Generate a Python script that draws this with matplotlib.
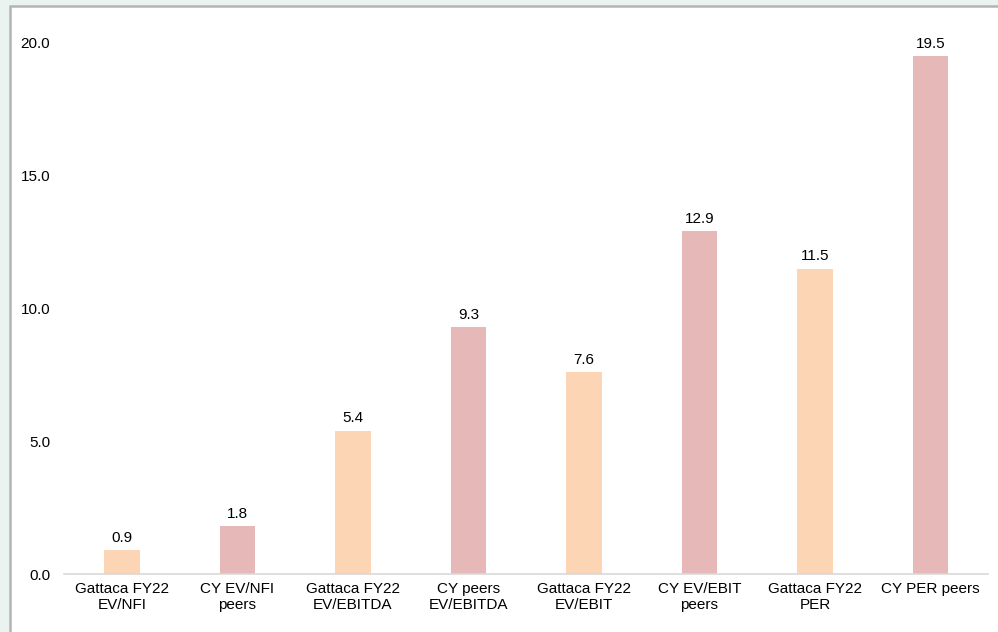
import matplotlib.pyplot as plt
from matplotlib.patches import Rectangle

plt.rcParams['font.family'] = ['Liberation Sans', 'DejaVu Sans']

# ================== DỮ LIỆU ==================
categories = [
    "Gattaca FY22\nEV/NFI", "CY EV/NFI\npeers",
    "Gattaca FY22\nEV/EBITDA", "CY peers\nEV/EBITDA",
    "Gattaca FY22\nEV/EBIT", "CY EV/EBIT\npeers",
    "Gattaca FY22\nPER", "CY PER peers",
]
values = [0.9, 1.8, 5.4, 9.3, 7.6, 12.9, 11.5, 19.5]
yticks = [0.0, 5.0, 10.0, 15.0, 20.0]

peach = "#fcd5b5"
pink = "#e6b9b8"
colors = [peach, pink] * 4

# ================== VẼ ==================
fig = plt.figure(figsize=(9.98, 6.32), dpi=100)
fig.patch.set_facecolor("#eaf3f0")

# khung trắng viền xám (nằm dưới trục)
W, H = 998, 632
panel = Rectangle((9.5 / W, -0.05), 1.1, (H - 5.5) / H + 0.05,
                  transform=fig.transFigure, facecolor="white",
                  edgecolor="#b4b4b4", linewidth=1.8, zorder=-10)
fig.patches.append(panel)

ax = fig.add_axes([64.25 / W, 58 / H, 924 / W, 557.6 / H])
ax.set_zorder(5)
ax.set_facecolor("none")

x = list(range(len(values)))
bars = ax.bar(x, values, width=0.31, color=colors, zorder=2)

for xi, v in zip(x, values):
    ax.annotate(f"{v:.1f}", (xi, v), xytext=(0, 4), textcoords="offset points",
                ha="center", va="bottom", fontsize=11, color="#000000")

ax.set_xlim(-0.5, 7.5)
ax.set_ylim(0, 21)
ax.set_yticks(yticks)
ax.set_yticklabels([f"{t:.1f}" for t in yticks], fontsize=11)
ax.set_xticks(x)
ax.set_xticklabels(categories, fontsize=11, linespacing=1.15)

for s in ["top", "right", "left"]:
    ax.spines[s].set_visible(False)
ax.spines["bottom"].set_color("#d9d9d9")
ax.spines["bottom"].set_linewidth(1.2)
ax.tick_params(axis="both", length=0)
ax.tick_params(axis="y", pad=10)
ax.tick_params(axis="x", pad=6)

fig.savefig("out.png", dpi=100, facecolor=fig.get_facecolor())
